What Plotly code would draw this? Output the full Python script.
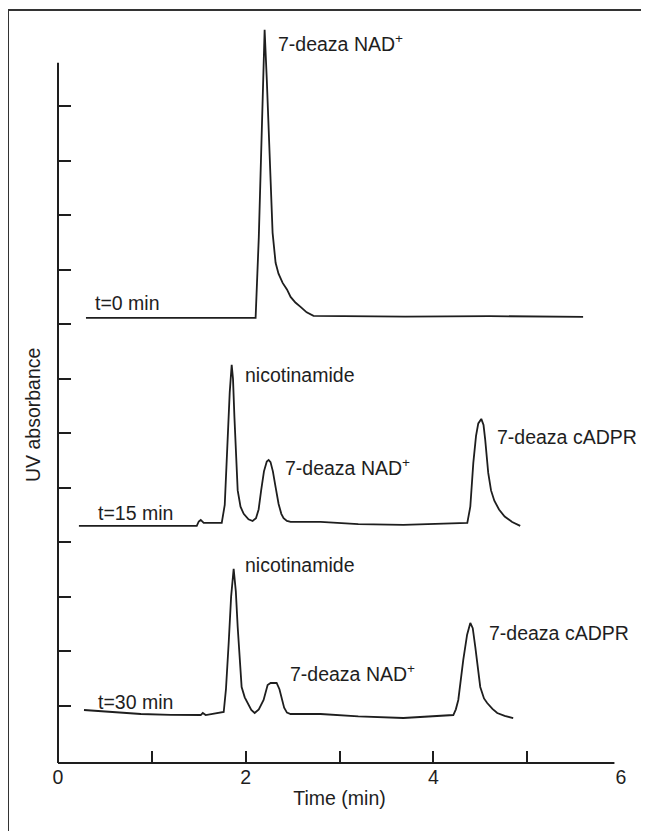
import plotly.graph_objects as go

# ---- data (time in min, absorbance in arbitrary stacked units) ----
t0_time = [0.298, 1.500, 2.106, 2.140, 2.170, 2.202, 2.225, 2.245, 2.265, 2.287, 2.319,
           2.350, 2.394, 2.440, 2.479, 2.530, 2.585, 2.650, 2.723, 3.700, 4.600, 5.596]
t0_abs = [8.118, 8.125, 8.118, 9.600, 11.600, 13.407, 12.500, 11.515, 10.500, 9.679, 9.128,
          8.930, 8.760, 8.640, 8.503, 8.400, 8.320, 8.220, 8.154, 8.140, 8.150, 8.136]

t15_time = [0.223, 1.000, 1.479, 1.500, 1.521, 1.553, 1.745, 1.777, 1.809, 1.830, 1.851,
            1.865, 1.880, 1.894, 1.915, 1.945, 1.979, 2.030, 2.074, 2.110, 2.138, 2.165,
            2.195, 2.225, 2.245, 2.265, 2.290, 2.320, 2.351, 2.380, 2.404, 2.440, 2.479,
            2.798, 3.200, 3.681, 4.100, 4.362, 4.394, 4.426, 4.455, 4.479, 4.511, 4.535,
            4.553, 4.585, 4.615, 4.650, 4.700, 4.760, 4.840, 4.926]
t15_abs = [4.298, 4.300, 4.298, 4.380, 4.408, 4.353, 4.353, 4.683, 6.006, 6.750, 7.254,
           7.000, 6.300, 5.700, 4.950, 4.650, 4.520, 4.420, 4.389, 4.440, 4.600, 4.950,
           5.300, 5.480, 5.510, 5.470, 5.300, 5.000, 4.700, 4.520, 4.440, 4.390, 4.371,
           4.371, 4.330, 4.316, 4.340, 4.353, 4.650, 5.455, 5.950, 6.180, 6.263, 6.150,
           5.877, 5.271, 4.950, 4.760, 4.600, 4.470, 4.371, 4.298]

t30_time = [0.277, 0.564, 0.883, 1.200, 1.521, 1.543, 1.574, 1.766, 1.790, 1.819, 1.845,
            1.872, 1.895, 1.915, 1.935, 1.957, 1.990, 2.021, 2.060, 2.096, 2.140, 2.191,
            2.234, 2.266, 2.330, 2.360, 2.385, 2.410, 2.440, 2.479, 2.798, 3.200, 3.681,
            4.213, 4.240, 4.266, 4.319, 4.360, 4.394, 4.420, 4.447, 4.500, 4.540, 4.574,
            4.630, 4.681, 4.760, 4.851]
t30_abs = [0.918, 0.882, 0.845, 0.830, 0.826, 0.863, 0.826, 0.882, 1.300, 2.149, 3.000,
           3.508, 3.100, 2.443, 1.800, 1.341, 1.150, 1.047, 0.920, 0.863, 0.930, 1.102,
           1.377, 1.414, 1.414, 1.300, 1.120, 0.960, 0.870, 0.845, 0.845, 0.800, 0.771,
           0.826, 0.930, 1.102, 1.837, 2.300, 2.516, 2.420, 2.075, 1.341, 1.130, 1.047,
           0.940, 0.863, 0.810, 0.771]

# peak / trace labels: (text, time, absorbance)
label_text = ["7-deaza NAD<sup>+</sup>", "t=0 min",
              "nicotinamide", "7-deaza NAD<sup>+</sup>", "7-deaza cADPR", "t=15 min",
              "nicotinamide", "7-deaza NAD<sup>+</sup>", "7-deaza cADPR", "t=30 min"]
label_time = [2.32, 0.37, 1.97, 2.40, 4.66, 0.40, 1.97, 2.45, 4.57, 0.40]
label_abs = [13.17, 8.39, 7.07, 5.38, 5.93, 4.54, 3.58, 1.60, 2.33, 1.07]

x_tick_vals = [0, 2, 4, 6]
x_tick_text = ["0", "2", "4", "6"]
x_minor_ticks = [1, 2, 3, 4, 5]
y_ticks = list(range(1, 13))

INK = "#1e1e1e"
FONT = "Liberation Sans"
FS = 19.5

fig = go.Figure()
for tx, ab, nm in [(t0_time, t0_abs, "t=0 min"), (t15_time, t15_abs, "t=15 min"),
                   (t30_time, t30_abs, "t=30 min")]:
    fig.add_trace(go.Scatter(x=tx, y=ab, mode="lines", name=nm,
                             line=dict(color=INK, width=1.8),
                             showlegend=False, cliponaxis=False))
# dummy trace so the tick-mark overlay axis is drawn
fig.add_trace(go.Scatter(x=[None], y=[None], xaxis="x2", showlegend=False,
                         hoverinfo="skip"))

for txt, tx, ab in zip(label_text, label_time, label_abs):
    fig.add_annotation(x=tx, y=ab, text=txt, showarrow=False, xanchor="left",
                       yanchor="middle", font=dict(size=FS, color=INK, family=FONT))

fig.add_annotation(xref="paper", yref="paper", x=-0.0444, y=0.4696,
                   text="UV absorbance", textangle=-90, showarrow=False,
                   xanchor="center", yanchor="middle",
                   font=dict(size=FS, color=INK, family=FONT))

# axis lines (shorter than plotting area, as in the original)
fig.add_shape(type="line", xref="paper", yref="y", x0=0, x1=0, y0=-0.055, y1=12.8,
              line=dict(color=INK, width=2))
fig.add_shape(type="line", xref="x", yref="paper", x0=0, x1=5.93, y0=0, y1=0,
              line=dict(color=INK, width=2))
# figure frame (left and top)
fig.add_shape(type="line", xref="paper", yref="paper", x0=-0.0888, x1=-0.0888,
              y0=-0.12, y1=1.0162, line=dict(color="#333", width=2))
fig.add_shape(type="line", xref="paper", yref="paper", x0=-0.0888, x1=1.06,
              y0=1.0162, y1=1.0162, line=dict(color="#333", width=2))

fig.update_layout(
    width=641, height=823,
    margin=dict(l=50, r=28, t=14, b=68),
    paper_bgcolor="white", plot_bgcolor="white",
    font=dict(family=FONT, size=FS, color=INK),
    xaxis=dict(range=[0, 6], tickvals=x_tick_vals, ticktext=x_tick_text, ticks="",
               showline=False, showgrid=False, zeroline=False,
               tickfont=dict(size=FS, color=INK, family=FONT),
               title=dict(text="Time (min)", standoff=4,
                          font=dict(size=FS, color=INK, family=FONT))),
    xaxis2=dict(range=[0, 6], overlaying="x", anchor="y", side="bottom",
                tickvals=x_minor_ticks, ticks="inside", ticklen=12, tickwidth=2,
                tickcolor=INK, showticklabels=False, showgrid=False, zeroline=False,
                showline=False),
    yaxis=dict(range=[-0.055, 13.55], tickvals=y_ticks, ticks="inside", ticklen=13,
               tickwidth=2, tickcolor=INK, showticklabels=False, showgrid=False,
               zeroline=False, showline=False),
)

fig.write_html("out.html")
